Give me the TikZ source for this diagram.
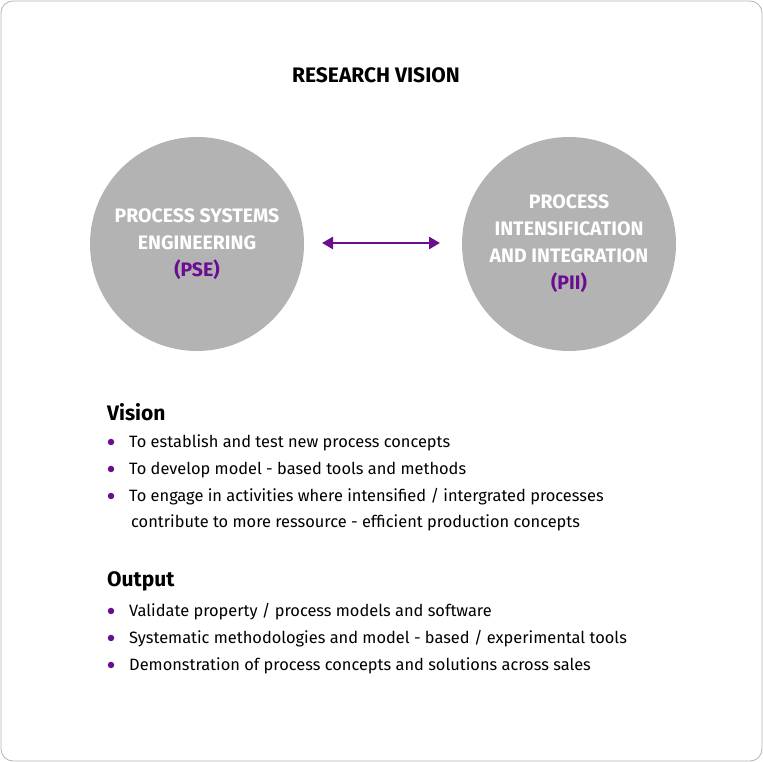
\documentclass[tikz,border=0pt]{standalone}
\usepackage{fontspec}
\setmainfont{Fira Sans}
\usetikzlibrary{arrows.meta}
\definecolor{pur}{HTML}{6A0D91}
\definecolor{circ}{HTML}{B3B3B3}
\begin{document}
\begin{tikzpicture}[x=1pt,y=1pt,
  bub/.style={circle,fill=circ,minimum size=214pt,inner sep=0pt,align=center,text=white,font=\fontsize{19.5}{27}\selectfont\bfseries},
  body/.style={anchor=west,font=\fontsize{16.4}{27}\selectfont,inner sep=0pt},
  head/.style={anchor=west,font=\fontsize{21}{22}\selectfont\bfseries,inner sep=0pt},
  dot/.style={circle,fill=pur,minimum size=6.5pt,inner sep=0pt}]
\useasboundingbox (0,0) rectangle (763,762);
\draw[draw=gray!60,rounded corners=12pt,line width=0.8pt] (1,1) rectangle (762,761);
\node[font=\fontsize{21}{22}\selectfont\bfseries] (title) at (376,687) {RESEARCH VISION};
\node[bub] (pse) at (197,518) {PROCESS SYSTEMS\\ENGINEERING\\\textcolor{pur}{(PSE)}};
\node[bub] (pii) at (569,518) {PROCESS\\INTENSIFICATION\\AND INTEGRATION\\\textcolor{pur}{(PII)}};
\draw[pur,line width=2.6pt,{Triangle[length=11pt,width=12pt]}-{Triangle[length=11pt,width=12pt]}] (322,519) -- (440,519);
\node[head] (vh) at (107,350) {Vision};
\node[dot] (d1) at (111,320) {}; \node[body] (v1) at (129,319) {To establish and test new process concepts};
\node[dot] (d2) at (111,293) {}; \node[body] (v2) at (129,292) {To develop model - based tools and methods};
\node[dot] (d3) at (111,266) {}; \node[body] (v3) at (129,265) {To engage in activities where intensified / intergrated processes};
\node[body] (v4) at (131,239) {contribute to more ressource - efficient production concepts};
\node[head] (oh) at (107,181) {Output};
\node[dot] (d4) at (111,151) {}; \node[body] (o1) at (129,150) {Validate property / process models and software};
\node[dot] (d5) at (111,124) {}; \node[body] (o2) at (129,123) {Systematic methodologies and model - based / experimental tools};
\node[dot] (d6) at (111,97) {}; \node[body] (o3) at (129,96) {Demonstration of process concepts and solutions across sales};
\end{tikzpicture}
\end{document}
